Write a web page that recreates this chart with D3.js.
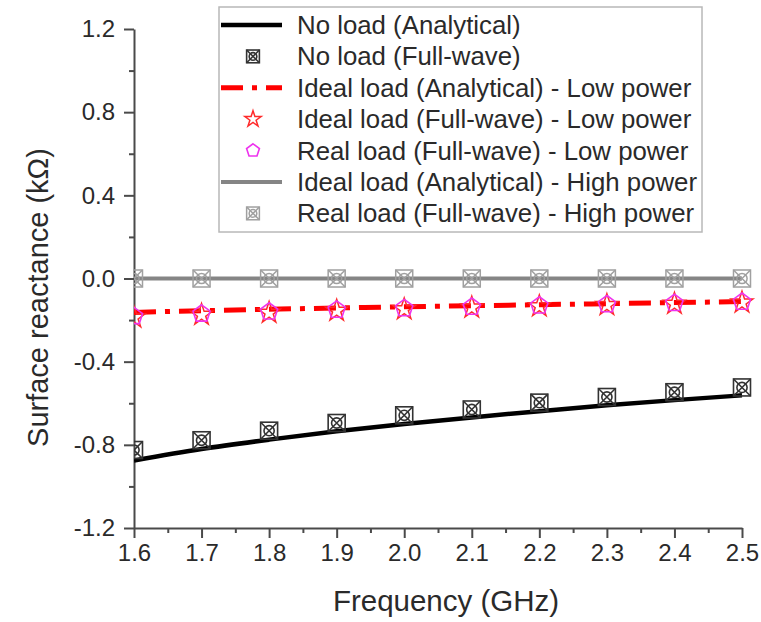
<!DOCTYPE html>
<html>
<head>
<meta charset="utf-8">
<script src="https://cdn.jsdelivr.net/npm/d3@7"></script>
<style>
  body { margin: 0; background: #fff; }
  svg { font-family: "Liberation Sans", Arial, sans-serif; }
</style>
</head>
<body>
<div id="chart"></div>
<script>
// frequency points (GHz)
var freq = [1.6, 1.7, 1.8, 1.9, 2.0, 2.1, 2.2, 2.3, 2.4, 2.5];

// surface reactance (kOhm)
var noLoadAnalytical = [-0.875, -0.82, -0.775, -0.735, -0.70, -0.668, -0.638, -0.61, -0.585, -0.562];
var noLoadFullWave = [-0.825, -0.778, -0.732, -0.695, -0.658, -0.63, -0.597, -0.57, -0.547, -0.524];
var idealAnalyticalLow = [-0.163, -0.155, -0.148, -0.142, -0.136, -0.131, -0.126, -0.121, -0.116, -0.111];
var idealFullWaveLow = [-0.188, -0.175, -0.165, -0.155, -0.148, -0.14, -0.134, -0.128, -0.122, -0.116];
var realFullWaveLow = [-0.182, -0.17, -0.16, -0.151, -0.144, -0.137, -0.131, -0.125, -0.119, -0.113];
var idealAnalyticalHigh = [0, 0, 0, 0, 0, 0, 0, 0, 0, 0];
var realFullWaveHigh = [0, 0, 0, 0, 0, 0, 0, 0, 0, 0];

var xTicks = [1.6, 1.7, 1.8, 1.9, 2.0, 2.1, 2.2, 2.3, 2.4, 2.5];
var xMinorTicks = [1.65, 1.75, 1.85, 1.95, 2.05, 2.15, 2.25, 2.35, 2.45];
var yTicks = [-1.2, -0.8, -0.4, 0, 0.4, 0.8, 1.2];
var yMinorTicks = [-1.0, -0.6, -0.2, 0.2, 0.6, 1.0];

var legendLabels = [
  "No load (Analytical)",
  "No load (Full-wave)",
  "Ideal load (Analytical) - Low power",
  "Ideal load (Full-wave) - Low power",
  "Real load (Full-wave) - Low power",
  "Ideal load (Analytical) - High power",
  "Real load (Full-wave) - High power"
];

var width = 761;
var height = 622;
var margin = { top: 29, right: 19, bottom: 94, left: 134 };

var axisColor = "#4a4a4a";
var textColor = "#2a2a2a";

var x = d3.scaleLinear().domain([1.6, 2.5]).range([margin.left, width - margin.right]);
var y = d3.scaleLinear().domain([-1.2, 1.2]).range([height - margin.bottom, margin.top]);

var svg = d3.select("#chart")
  .append("svg")
  .attr("width", width)
  .attr("height", height);

svg.append("defs")
  .append("clipPath")
  .attr("id", "plot-clip")
  .append("rect")
  .attr("x", margin.left)
  .attr("y", 0)
  .attr("width", width - margin.left)
  .attr("height", height - margin.bottom + 12);

/* marker shapes */
function crossedSquare(g, s, color, w) {
  var h = s / 2;
  g.append("rect")
    .attr("x", -h).attr("y", -h).attr("width", s).attr("height", s)
    .attr("fill", "none").attr("stroke", color).attr("stroke-width", w);
  g.append("path")
    .attr("d", `M${-h},${-h}L${h},${h}M${-h},${h}L${h},${-h}`)
    .attr("stroke", color).attr("stroke-width", w);
  g.append("circle")
    .attr("r", h * 0.6)
    .attr("fill", "none").attr("stroke", color).attr("stroke-width", w);
}

function star(g, s, color, w) {
  g.append("path")
    .attr("d", d3.symbol(d3.symbolStar, s * s * 0.45)())
    .attr("fill", "none").attr("stroke", color).attr("stroke-width", w);
}

function pentagon(g, s, color, w) {
  var r = s / 2;
  var pts = d3.range(5).map(function (i) {
    var a = -Math.PI / 2 + i * 2 * Math.PI / 5;
    return [r * Math.cos(a), r * Math.sin(a)];
  });
  g.append("path")
    .attr("d", d3.line()(pts) + "Z")
    .attr("fill", "none").attr("stroke", color).attr("stroke-width", w);
}

var series = [
  { name: legendLabels[0], values: noLoadAnalytical, type: "line", color: "#000", width: 4.5, dash: null },
  { name: legendLabels[1], values: noLoadFullWave, type: "marker", shape: crossedSquare, color: "#333", size: 17, mw: 1.6 },
  { name: legendLabels[2], values: idealAnalyticalLow, type: "line", color: "#ff0000", width: 5, dash: "22,9,5,9" },
  { name: legendLabels[3], values: idealFullWaveLow, type: "marker", shape: star, color: "#ff2a2a", size: 18, mw: 1.5 },
  { name: legendLabels[4], values: realFullWaveLow, type: "marker", shape: pentagon, color: "#ee33ee", size: 18, mw: 1.6 },
  { name: legendLabels[5], values: idealAnalyticalHigh, type: "line", color: "#858585", width: 4, dash: null },
  { name: legendLabels[6], values: realFullWaveHigh, type: "marker", shape: crossedSquare, color: "#a0a0a0", size: 17, mw: 1.5 }
];

/* axes */
svg.append("g")
  .attr("transform", `translate(${margin.left},0)`)
  .call(d3.axisLeft(y).tickValues(yTicks).tickSize(10).tickSizeOuter(0).tickPadding(9)
    .tickFormat(function (d) { return d.toFixed(1); }));

svg.append("g")
  .attr("transform", `translate(${margin.left},0)`)
  .call(d3.axisLeft(y).tickValues(yMinorTicks).tickSize(5).tickSizeOuter(0).tickFormat(""))
  .select(".domain").remove();

svg.append("g")
  .attr("transform", `translate(0,${height - margin.bottom})`)
  .call(d3.axisBottom(x).tickValues(xTicks).tickSize(10).tickSizeOuter(0).tickPadding(6)
    .tickFormat(function (d) { return d.toFixed(1); }));

svg.append("g")
  .attr("transform", `translate(0,${height - margin.bottom})`)
  .call(d3.axisBottom(x).tickValues(xMinorTicks).tickSize(5).tickSizeOuter(0).tickFormat(""))
  .select(".domain").remove();

svg.selectAll(".domain, .tick line")
  .attr("stroke", axisColor)
  .attr("stroke-width", 2);

svg.selectAll(".tick text")
  .attr("fill", textColor)
  .style("font-size", "24px")
  .style("font-family", "'Liberation Sans', Arial, sans-serif");

svg.append("text")
  .attr("x", (margin.left + width - margin.right) / 2 + 8)
  .attr("y", 611)
  .attr("text-anchor", "middle")
  .attr("fill", textColor)
  .style("font-size", "29.5px")
  .text("Frequency (GHz)");

svg.append("text")
  .attr("transform", `translate(48,${(margin.top + height - margin.bottom) / 2 + 19}) rotate(-90)`)
  .attr("text-anchor", "middle")
  .attr("fill", textColor)
  .style("font-size", "29px")
  .text("Surface reactance (kΩ)");

/* data */
var plot = svg.append("g").attr("clip-path", "url(#plot-clip)");

var line = d3.line()
  .curve(d3.curveMonotoneX)
  .x(function (d, i) { return x(freq[i]); })
  .y(function (d) { return y(d); });

// lines first, markers on top
var drawOrder = [5, 2, 0, 6, 1, 3, 4];
drawOrder.forEach(function (k) {
  var s = series[k];
  if (s.type === "line") {
    plot.append("path")
      .attr("d", line(s.values))
      .attr("fill", "none")
      .attr("stroke", s.color)
      .attr("stroke-width", s.width)
      .attr("stroke-dasharray", s.dash);
  } else {
    s.values.forEach(function (v, i) {
      var g = plot.append("g")
        .attr("transform", `translate(${x(freq[i])},${y(v)})`);
      s.shape(g, s.size, s.color, s.mw);
    });
  }
});

/* legend */
var legend = svg.append("g");
legend.append("rect")
  .attr("x", 219).attr("y", 7)
  .attr("width", 483).attr("height", 225)
  .attr("fill", "#fff")
  .attr("stroke", "#b8b8b8")
  .attr("stroke-width", 1.5);

series.forEach(function (s, i) {
  var ry = 25 + i * 31.4;
  var row = legend.append("g").attr("transform", `translate(0,${ry})`);
  if (s.type === "line") {
    row.append("line")
      .attr("x1", 221).attr("x2", 282)
      .attr("stroke", s.color)
      .attr("stroke-width", s.width)
      .attr("stroke-dasharray", s.dash);
  } else {
    var g = row.append("g").attr("transform", "translate(253,0)");
    s.shape(g, s.size * 0.75, s.color, s.mw);
  }
  row.append("text")
    .attr("x", 297)
    .attr("dy", "0.35em")
    .attr("fill", textColor)
    .style("font-size", "25.8px")
    .text(s.name);
});
</script>
</body>
</html>
